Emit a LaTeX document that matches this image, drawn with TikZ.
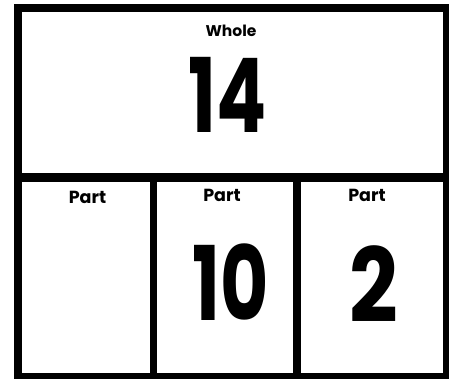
\documentclass[tikz,border=0pt]{standalone}
\usepackage{fontspec}
\setmainfont{Poppins}
\begin{document}
\begin{tikzpicture}[x=1pt,y=-1pt,
  frame/.style={line width=8pt,draw=black},
  divider/.style={line width=7.5pt,draw=black},
  label/.style={font=\fontsize{15.5}{15.5}\selectfont\bfseries,inner sep=0pt},
  partlabel/.style={font=\fontsize{17.5}{17.5}\selectfont\bfseries,inner sep=0pt},
  bignum/.style={font=\fontsize{103}{103}\selectfont\bfseries,inner sep=0pt,xscale=0.72}]
\useasboundingbox[fill=white] (0,0) rectangle (449,379);
\draw[frame] (18,8.5) rectangle (447,376.5);
\draw[line width=9pt] (14,177.5) -- (449,177.5);
\draw[divider] (153.5,182) -- (153.5,379);
\draw[divider] (297,182) -- (297,379);
\node[label] (whole) at (231,31) {Whole};
\node[bignum] (wn) at (228,95) {14};
\node[partlabel] (p1) at (87.5,197.5) {Part};
\node[partlabel] (p2) at (222,195) {Part};
\node[partlabel] (p3) at (367,195) {Part};
\node[bignum] (n2) at (231,282) {10};
\node[bignum,xscale=1.15] (n3) at (374,284) {2};
\end{tikzpicture}
\end{document}
